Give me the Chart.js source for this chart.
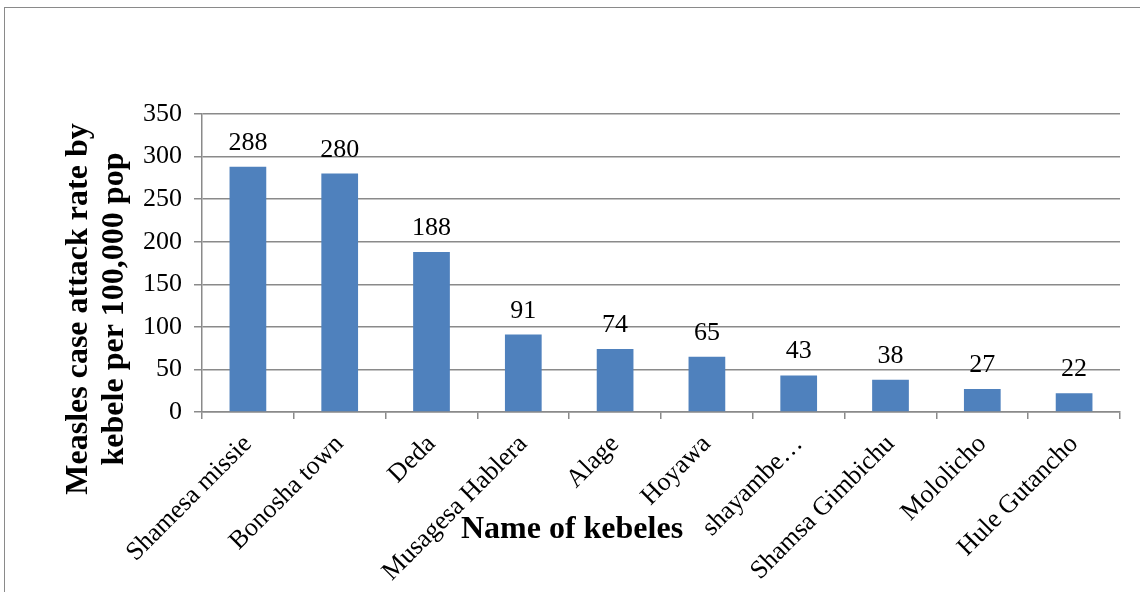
<!DOCTYPE html>
<html>
<head>
<meta charset="utf-8">
<script src="https://cdn.jsdelivr.net/npm/chart.js@4.4.1/dist/chart.umd.min.js"></script>
<style>
  html, body { margin: 0; padding: 0; background: #fff; overflow: hidden; }
  #wrap { position: relative; width: 1140px; height: 592px; }
  #frame { position: absolute; left: 4px; top: 7px; width: 1200px; height: 700px;
           border-left: 1.5px solid #8a8a8a; border-top: 1.5px solid #8a8a8a; }
  canvas { position: absolute; left: 0; top: 0; }
</style>
</head>
<body>
<div id="wrap">
  <div id="frame"></div>
  <canvas id="chart" width="1140" height="592"></canvas>
</div>
<script>
// attack rate per 100,000 population, by kebele
const kebeles = ['Shamesa missie', 'Bonosha town', 'Deda', 'Musagesa Hablera', 'Alage',
                 'Hoyawa', 'shayambe…', 'Shamsa Gimbichu', 'Mololicho', 'Hule Gutancho'];
const attackRates = [288, 280, 188, 91, 74, 65, 43, 38, 27, 22];
const yTicks = [0, 50, 100, 150, 200, 250, 300, 350];

const yTitleLines = ['Measles case attack rate by', 'kebele per 100,000 pop'];
const xTitle = 'Name of kebeles';

const SERIF = '"Liberation Serif", "Times New Roman", serif';
const GRID = '#8a8a8a';

// numbers above each bar
const valueLabels = {
  id: 'valueLabels',
  afterDatasetsDraw(chart) {
    const ctx = chart.ctx;
    const meta = chart.getDatasetMeta(0);
    ctx.save();
    ctx.font = '26px ' + SERIF;
    ctx.fillStyle = '#000';
    ctx.textAlign = 'center';
    ctx.textBaseline = 'alphabetic';
    meta.data.forEach((bar, i) => {
      ctx.fillText(String(attackRates[i]), bar.x, bar.y - 17);
    });
    ctx.restore();
  }
};

// axis titles, placed like the office-style layout (x title overlaps the labels)
const axisTitles = {
  id: 'axisTitles',
  afterDraw(chart) {
    const ctx = chart.ctx;
    const area = chart.chartArea;
    ctx.save();
    ctx.fillStyle = '#000';
    ctx.font = 'bold 32px ' + SERIF;
    ctx.textAlign = 'center';
    ctx.textBaseline = 'alphabetic';
    ctx.fillText(xTitle, area.left + 370, area.bottom + 126);

    ctx.translate(0, area.top + 195);
    ctx.rotate(-Math.PI / 2);
    ctx.fillText(yTitleLines[0], 0, 87);
    ctx.fillText(yTitleLines[1], 0, 123);
    ctx.restore();
  }
};

new Chart(document.getElementById('chart'), {
  type: 'bar',
  data: {
    labels: kebeles,
    datasets: [{
      data: attackRates,
      backgroundColor: '#4F81BD',
      barPercentage: 0.4,
      categoryPercentage: 1
    }]
  },
  options: {
    responsive: false,
    animation: false,
    layout: { padding: { top: 114, right: 20, left: 0, bottom: 0 } },
    plugins: { legend: { display: false }, tooltip: { enabled: false } },
    scales: {
      x: {
        afterFit(scale) { scale.height = 180; },
        border: { color: GRID, width: 1.5 },
        grid: { offset: true, drawOnChartArea: false, drawTicks: true, tickLength: 7, color: GRID, lineWidth: 1.5 },
        ticks: {
          color: '#000', font: { family: SERIF, size: 26 },
          minRotation: 45, maxRotation: 45, autoSkip: false, padding: 10
        }
      },
      y: {
        min: 0, max: 350,
        afterFit(scale) { scale.width = 202; },
        afterBuildTicks(scale) { scale.ticks = yTicks.map(v => ({ value: v })); },
        border: { color: GRID, width: 1.5 },
        grid: { color: GRID, lineWidth: 1.5, tickLength: 8 },
        ticks: { color: '#000', font: { family: SERIF, size: 26 }, padding: 12 }
      }
    }
  },
  plugins: [valueLabels, axisTitles]
});
</script>
</body>
</html>
